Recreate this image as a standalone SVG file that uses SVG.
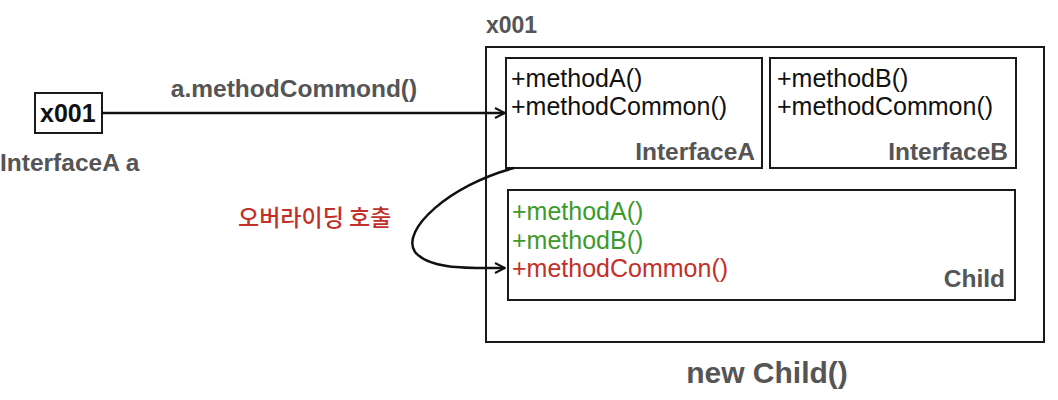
<svg xmlns="http://www.w3.org/2000/svg" width="1058" height="400" viewBox="0 0 1058 400">
<defs>
<style>
.box{fill:#fff;stroke:#1a1a1a;stroke-width:2}
.lbl{font-family:"Liberation Sans",Arial,sans-serif;font-weight:bold;fill:#555;font-size:24.5px}
.m{font-family:"Liberation Sans",Arial,sans-serif;font-size:25px;fill:#111}
.g{fill:#3c9a2c}
.r{fill:#c2302a}
.ko{font-family:"Noto Sans CJK KR","Liberation Sans",sans-serif;font-size:23px;fill:#c2302a;font-weight:500}
.edge{fill:none;stroke:#111;stroke-width:2.5}
</style>
<marker id="arr" viewBox="0 0 12 12" refX="11" refY="6" markerWidth="12" markerHeight="12" markerUnits="userSpaceOnUse" orient="auto">
<path d="M1,1 L11,6 L1,11" fill="none" stroke="#111" stroke-width="2"/>
</marker>
</defs>
<rect width="1058" height="400" fill="#fff"/>
<g id="ref-a">
<rect class="box" x="35" y="93" width="67" height="40"/>
<text class="m" x="40" y="122" style="font-size:25px;font-weight:bold">x001</text>
<text class="lbl" x="0" y="171">InterfaceA a</text>
</g>
<g id="child-object">
<text class="lbl" x="486" y="33" style="font-size:23px">x001</text>
<rect class="box" x="486" y="47" width="558" height="295"/>
<text class="lbl" x="767" y="383" text-anchor="middle" style="font-size:30px">new Child()</text>
</g>
<g id="interfaceA">
<rect class="box" x="506" y="58" width="256" height="110"/>
<text class="m" x="511" y="87">+methodA()</text>
<text class="m" x="511" y="115">+methodCommon()</text>
<text class="lbl" x="755" y="160" text-anchor="end">InterfaceA</text>
</g>
<g id="interfaceB">
<rect class="box" x="770" y="58" width="246" height="110"/>
<text class="m" x="777" y="87">+methodB()</text>
<text class="m" x="777" y="115">+methodCommon()</text>
<text class="lbl" x="1008" y="160" text-anchor="end">InterfaceB</text>
</g>
<g id="child">
<rect class="box" x="508" y="190" width="507" height="110"/>
<text class="m g" x="512" y="220">+methodA()</text>
<text class="m g" x="512" y="249">+methodB()</text>
<text class="m r" x="512" y="277">+methodCommon()</text>
<text class="lbl" x="1005" y="287" text-anchor="end">Child</text>
</g>
<g id="connectors">
<line class="edge" x1="102" y1="113" x2="505" y2="113" marker-end="url(#arr)"/>
<text class="lbl" x="294" y="97" text-anchor="middle">a.methodCommond()</text>
<path class="edge" d="M514,168 C450,185 400,230 415,252 C430,270 470,268 505,268" marker-end="url(#arr)"/>
<text class="ko" x="238" y="226">오버라이딩 호출</text>
</g>
</svg>
